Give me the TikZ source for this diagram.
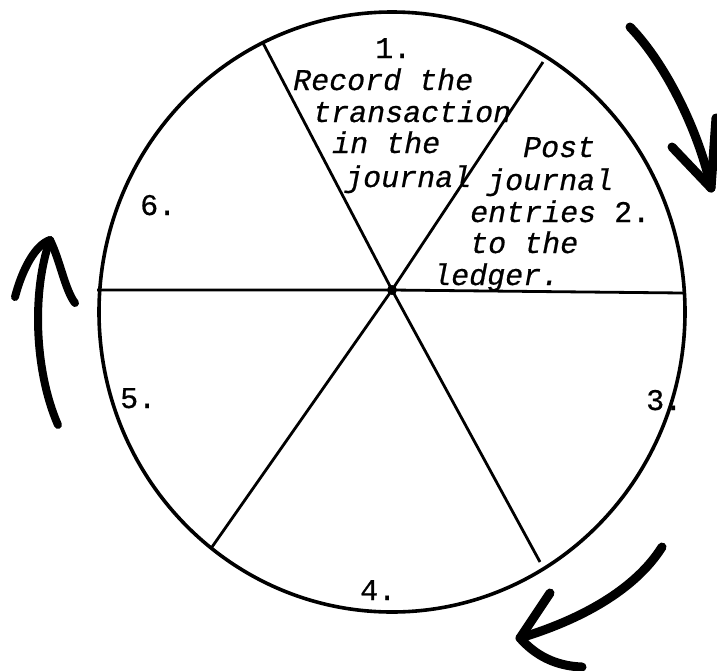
\documentclass[tikz,border=0pt]{standalone}
\usepackage{fontspec}
\setmonofont[FakeBold=0.6]{Liberation Mono}

\begin{document}
\begin{tikzpicture}[
			x=1pt, y=-1pt,
			rim/.style={line width=3.6pt},
			spoke/.style={line width=2.8pt},
			pen/.style={line width=9pt, line cap=round, line join=round},
			num/.style={anchor=base west, inner sep=0pt, font=\fontsize{30}{32}\selectfont\ttfamily},
			txt/.style={anchor=base west, inner sep=0pt, font=\fontsize{30}{32}\selectfont\ttfamily\itshape},
			]
			\useasboundingbox (0,0) rectangle (717,670);

			% --- Wheel ---
			\coordinate (ctr) at (392,312);
			\coordinate (hub) at (392,290);
			\coordinate (w) at (97,290);   \coordinate (e) at (683,293);
			\coordinate (nw) at (263,43);  \coordinate (se) at (540,562);
			\coordinate (ne) at (543,62);  \coordinate (sw) at (212,547);

			\draw[rim] (ctr) ellipse[x radius=293, y radius=300];
			\draw[spoke] (w) -- (hub) -- (e);
			\draw[spoke] (nw) -- (hub) -- (se);
			\draw[spoke] (ne) -- (hub) -- (sw);
			\fill (hub) circle[radius=5];

			% --- Step 1 ---
			\node[num] (s1) at (375,58) {1.};
			\node[txt] (s1a) at (293,90) {Record the};
			\node[txt] (s1b) at (313,122) {transaction};
			\node[txt] (s1c) at (332,153) {in the};
			\node[txt] (s1d) at (345,187) {journal};

			% --- Step 2 ---
			\node[txt] (s2a) at (523,157) {Post};
			\node[txt] (s2b) at (487,190) {journal};
			\node[txt] (s2c) at (470,222) {entries {\upshape 2.}};
			\node[txt] (s2d) at (470,253) {to the};
			\node[txt] (s2e) at (433,285) {ledger.};

			% --- Other steps ---
			\node[num] (s3) at (646,410) {3.};
			\node[num] (s4) at (360,600) {4.};
			\node[num] (s5) at (120,408) {5.};
			\node[num] (s6) at (140,215) {6.};

			% --- Hand drawn arrows round the wheel ---
			\coordinate (a1s) at (630,27);  \coordinate (a1t) at (711,188);
			\draw[pen] (a1s) .. controls (667,65) and (700,135) .. (a1t);
			\draw[pen] (672,147) -- (a1t) -- (716,118);

			\coordinate (a2s) at (58,425);  \coordinate (a2t) at (50,240);
			\draw[pen, line width=8pt] (a2s) .. controls (34,370) and (32,290) .. (a2t);
			\draw[pen, line width=8pt] (15,297) .. controls (22,270) and (35,245) .. (a2t)
				.. controls (60,260) and (65,290) .. (75,303);

			\coordinate (a3s) at (662,547); \coordinate (a3t) at (520,638);
			\draw[pen] (a3s) .. controls (635,590) and (580,620) .. (a3t);
			\draw[pen] (550,593) -- (a3t) .. controls (535,655) and (555,666) .. (582,667);

		\end{tikzpicture}
\end{document}
